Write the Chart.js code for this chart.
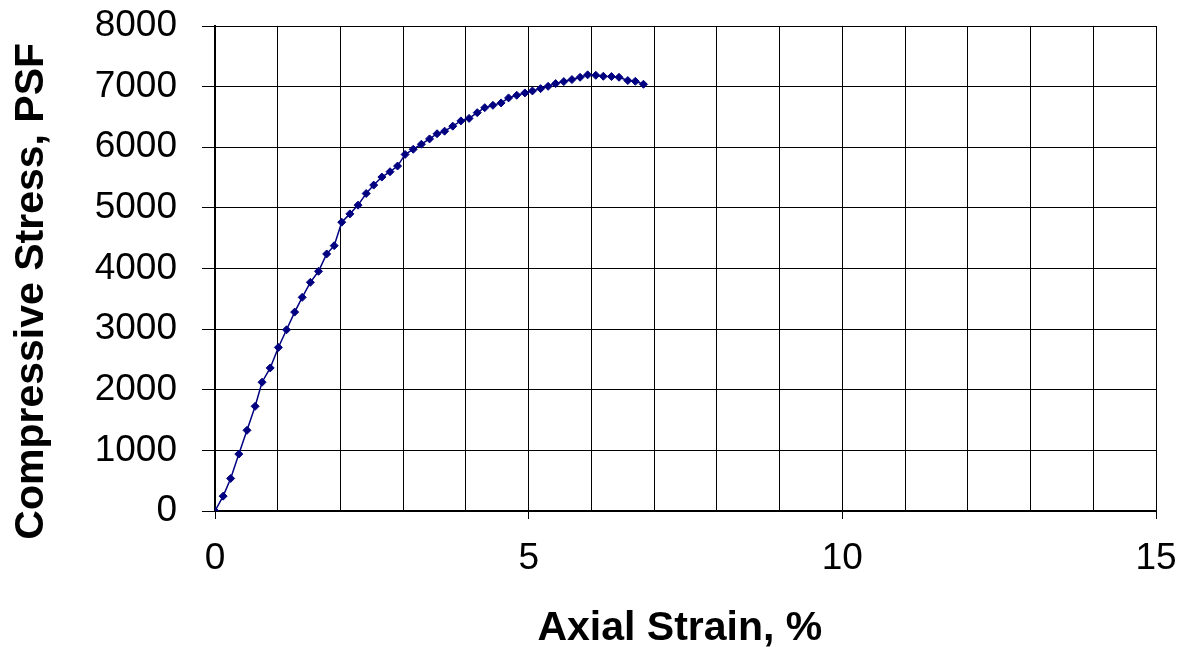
<!DOCTYPE html>
<html lang="en">
<head>
  <meta charset="UTF-8">
  <title>Compressive Stress vs Axial Strain</title>
  <style>
    html, body { margin: 0; padding: 0; background: #fff; }
    #wrap { width: 1189px; height: 647px; }
  </style>
  <script src="https://cdn.jsdelivr.net/npm/chart.js"></script>
</head>
<body>
  <div id="wrap"><canvas id="myChart" width="1189" height="647"></canvas></div>
  <script>
    // readings taken off the plot
    const strain = [0, 0.13, 0.25, 0.38, 0.51, 0.64, 0.75, 0.88, 1.01, 1.14, 1.27, 1.39, 1.52, 1.65, 1.78, 1.90,
      2.02, 2.15, 2.28, 2.41, 2.53, 2.66, 2.79, 2.91, 3.03, 3.16, 3.29, 3.42, 3.54, 3.66, 3.79, 3.92,
      4.05, 4.18, 4.30, 4.43, 4.56, 4.68, 4.81, 4.94, 5.06, 5.19, 5.31, 5.43, 5.56, 5.69, 5.82, 5.94,
      6.07, 6.19, 6.32, 6.44, 6.58, 6.70, 6.83];
    const stress = [0, 245, 537, 939, 1331, 1727, 2124, 2360, 2698, 2989, 3281, 3524, 3772, 3954, 4240, 4377,
      4764, 4901, 5045, 5237, 5376, 5508, 5596, 5690, 5881, 5967, 6050, 6138, 6223, 6265, 6348, 6435,
      6476, 6571, 6653, 6692, 6731, 6814, 6857, 6896, 6929, 6967, 7005, 7050, 7083, 7116, 7154, 7194,
      7187, 7171, 7166, 7154, 7100, 7088, 7039];
    const xTicksShown = [0, 5, 10, 15];

    const points = strain.map((x, i) => ({ x: x, y: stress[i] }));
    const fontFam = '"Liberation Sans", Arial, sans-serif';

    const ctx = document.getElementById('myChart').getContext('2d');
    new Chart(ctx, {
      type: 'scatter',
      data: {
        datasets: [{
          data: points,
          showLine: true,
          borderColor: '#000080',
          borderWidth: 1.5,
          backgroundColor: '#000080',
          pointStyle: 'rectRot',
          pointRadius: 4,
          pointBorderWidth: 1,
          pointBorderColor: '#000080',
          pointBackgroundColor: '#000080',
          tension: 0
        }]
      },
      options: {
        responsive: false,
        animation: false,
        layout: { padding: { left: 0, right: 33, top: 26, bottom: 0 } },
        plugins: { legend: { display: false }, tooltip: { enabled: false } },
        scales: {
          x: {
            type: 'linear',
            min: 0, max: 15,
            afterFit: s => { s.height = 136; s.paddingLeft = 0; s.paddingRight = 0; },
            border: { color: '#000', width: 2 },
            grid: {
              color: '#000',
              lineWidth: 1,
              tickLength: 8,
              tickColor: c => (c.tick && xTicksShown.includes(c.tick.value)) ? '#000' : 'rgba(0,0,0,0)'
            },
            ticks: {
              stepSize: 1,
              autoSkip: false,
              maxRotation: 0,
              padding: 18,
              color: '#000',
              font: { family: fontFam, size: 37 },
              callback: v => xTicksShown.includes(v) ? String(v) : ''
            },
            title: {
              display: true,
              text: 'Axial Strain, % ',
              color: '#000',
              font: { family: fontFam, size: 41, weight: 'bold' },
              padding: { top: 0, bottom: -6 }
            }
          },
          y: {
            min: 0, max: 8000,
            afterFit: s => { s.width = 215; s.paddingTop = 0; s.paddingBottom = 0; },
            border: { color: '#000', width: 2 },
            grid: { color: '#000', lineWidth: 1, tickLength: 13, tickColor: '#000' },
            ticks: {
              stepSize: 1000,
              padding: 25,
              color: '#000',
              font: { family: fontFam, size: 37 },
              callback: v => String(v)
            },
            title: {
              display: true,
              text: 'Compressive Stress, PSF    ',
              color: '#000',
              font: { family: fontFam, size: 41, weight: 'bold' },
              padding: { top: 7, bottom: 0 }
            }
          }
        }
      }
    });
  </script>
</body>
</html>
